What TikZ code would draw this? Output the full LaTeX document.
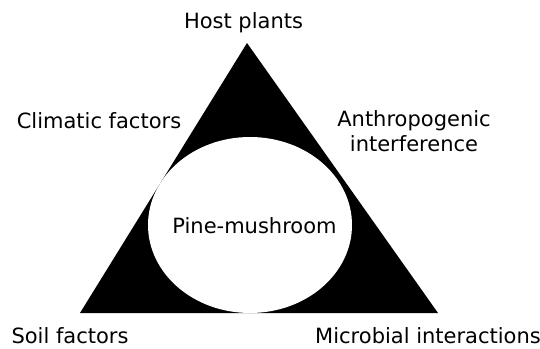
\documentclass[tikz,border=0pt]{standalone}
\usepackage{fontspec}
\setmainfont{DejaVu Sans}
\begin{document}
\begin{tikzpicture}[x=1pt,y=-1pt,
  lbl/.style={font=\fontsize{21}{25}\selectfont, inner sep=0pt, anchor=base, text=black}]
\useasboundingbox (0,0) rectangle (540,348);
% triangle
\coordinate (apex) at (247,43);
\coordinate (bl) at (80,313);
\coordinate (br) at (438,313);
\fill[black] (apex) -- (bl) -- (br) -- cycle;
% ellipse
\fill[white] (250,225) ellipse [x radius=102, y radius=88];
% labels
\node[lbl] (host) at (243.5,28) {Host plants};
\node[lbl] (clim) at (99,128) {Climatic factors};
\node[lbl, align=center, anchor=north] (anth) at (414,110) {Anthropogenic\\interference};
\node[lbl] (pine) at (254.5,233) {Pine-mushroom};
\node[lbl] (soil) at (70,343) {Soil factors};
\node[lbl] (micr) at (428,343) {Microbial interactions};
\end{tikzpicture}
\end{document}
